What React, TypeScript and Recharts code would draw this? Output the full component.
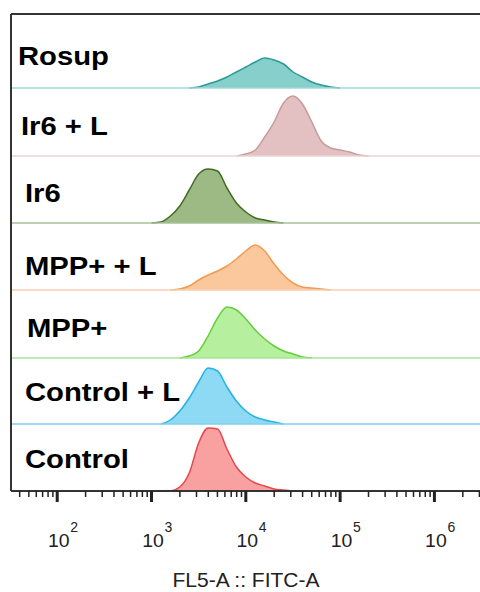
import { ComposedChart, Area, XAxis, YAxis, ReferenceLine } from 'recharts';

// log10 of FITC intensity, one sample every 0.1 decade
const logs = [3.0, 3.1, 3.2, 3.3, 3.4, 3.5, 3.6, 3.7, 3.8, 3.9, 4.0, 4.1, 4.2, 4.3, 4.4, 4.5, 4.6, 4.7, 4.8, 4.9, 5.0, 5.1, 5.2, 5.3];

// histogram heights per sample (null = outside the population)
const n = null;
const rosup = [n, n, n, n, 0, 1, 4, 7, 11, 16, 21, 26, 30, 28, 24, 16, 11, 6, 3, 1, 0, n, n, n];
const ir6L = [n, n, n, n, n, n, n, n, n, 0, 2, 6, 19, 34, 53, 60, 52, 34, 15, 8, 6, 4, 1, 0];
const ir6 = [0, 1, 7, 17, 33, 49, 54, 52, 35, 20, 11, 5, 3, 1, 0, n, n, n, n, n, n, n, n, n];
const mppL = [n, n, 0, 1, 4, 10, 15, 19, 24, 31, 39, 45, 39, 26, 15, 7, 3, 2, 1, 0, n, n, n, n];
const mpp = [n, n, n, 0, 2, 7, 22, 40, 51, 48, 39, 28, 19, 12, 7, 4, 1, 0, n, n, n, n, n, n];
const controlL = [n, 0, 4, 13, 26, 42, 56, 53, 37, 23, 13, 7, 4, 2, 0, n, n, n, n, n, n, n, n, n];
const control = [n, n, 0, 4, 18, 48, 63, 62, 42, 24, 14, 8, 5, 2, 1, 0, n, n, n, n, n, n, n, n];

const groupNames = ['Rosup', 'Ir6 + L', 'Ir6', 'MPP+ + L', 'MPP+', 'Control + L', 'Control'];

const majorTicks = [2, 3, 4, 5, 6];
const minorMultipliers = [2, 3, 4, 5, 6, 7, 8, 9];
const axisTitle = 'FL5-A :: FITC-A';

const X_DOMAIN: [number, number] = [1.51, 6.6];
const Y_TOP = 477;

const allTicks: number[] = [];
[1, ...majorTicks].forEach(d => {
  if (majorTicks.includes(d)) allTicks.push(d);
  minorMultipliers.forEach(m => {
    const v = d + Math.log10(m);
    if (v >= X_DOMAIN[0] && v <= X_DOMAIN[1]) allTicks.push(v);
  });
});

const rows = [
  { key: 'rosup', values: rosup, offset: 403, fill: '#86cfcb', stroke: '#2b9b96', base: '#9fd9d6', lx: 18, ly: 23 },
  { key: 'ir6L', values: ir6L, offset: 335, fill: '#e3c1c2', stroke: '#c99a9b', base: '#ecd3d4', lx: 21, ly: 21 },
  { key: 'ir6', values: ir6, offset: 268, fill: '#9dba85', stroke: '#3f6d22', base: '#a9c19a', lx: 25, ly: 21 },
  { key: 'mppL', values: mppL, offset: 201, fill: '#fac89c', stroke: '#f19a52', base: '#f6cfb0', lx: 25, ly: 15 },
  { key: 'mpp', values: mpp, offset: 133, fill: '#b6ef9e', stroke: '#63cf3b', base: '#a8e596', lx: 27, ly: 21 },
  { key: 'controlL', values: controlL, offset: 67, fill: '#8ed9f4', stroke: '#22b3e6', base: '#7fd0ee', lx: 25, ly: 23 },
  { key: 'control', values: control, offset: 0, fill: '#f9a0a0', stroke: '#e6474a', base: 'none', lx: 25, ly: 23 },
];

const table = logs.map((x, i) => {
  const row: Record<string, number | null> = { x };
  rows.forEach(r => { row[r.key] = r.values[i]; });
  return row;
});

const FONT = '"Liberation Sans", Arial, sans-serif';

function AxisTick({ x, y, payload }: any) {
  const v = payload.value as number;
  const major = Math.abs(v - Math.round(v)) < 1e-6;
  return (
    <g>
      <line x1={x} x2={x} y1={y} y2={y + (major ? 11 : 6)} stroke="#222" strokeWidth={major ? 3 : 1.5} />
      {major && (
        <g fill="#222" fontFamily={FONT}>
          <text transform={`translate(${x + 1.5}, ${y + 56}) scale(1.08, 1)`} textAnchor="middle" fontSize={18}>10</text>
          <text x={x + 13} y={y + 41} fontSize={14}>{Math.round(v)}</text>
        </g>
      )}
    </g>
  );
}

export default function App() {
  return (
    <div style={{ position: 'absolute', left: 0, top: 0, width: 480, height: 592, overflow: 'hidden', background: '#fff' }}>
      <ComposedChart width={500} height={592} data={table} margin={{ top: 14, right: 9, left: 11, bottom: 0 }}>
        <XAxis
          dataKey="x"
          type="number"
          domain={X_DOMAIN}
          allowDataOverflow
          ticks={allTicks}
          interval={0}
          tickSize={0}
          tickMargin={0}
          tickLine={false}
          tick={<AxisTick />}
          height={101}
          axisLine={{ stroke: '#333', strokeWidth: 2 }}
          label={({ viewBox }: any) => (
            <text x={viewBox.x + 235} y={viewBox.y + 96} textAnchor="middle" fontSize={21} fill="#222" fontFamily={FONT}>
              {axisTitle}
            </text>
          )}
        />
        <YAxis hide type="number" domain={[0, Y_TOP]} allowDataOverflow />
        {rows.map((r, i) => (
          <ReferenceLine
            key={'b' + r.key}
            y={r.offset}
            stroke={r.base}
            strokeWidth={1.5}
            label={({ viewBox }: any) => (
              <text
                transform={`translate(${r.lx}, ${viewBox.y - r.ly}) scale(1.17, 1)`}
                fontSize={25}
                fontWeight="bold"
                fill="#000"
                fontFamily={FONT}
              >
                {groupNames[i]}
              </text>
            )}
          />
        ))}
        {rows.map(r => (
          <Area
            key={r.key}
            type="monotone"
            dataKey={(d: any) => (d[r.key] == null ? null : r.offset + d[r.key])}
            baseValue={r.offset}
            stroke={r.stroke}
            strokeWidth={1.5}
            fill={r.fill}
            fillOpacity={1}
            dot={false}
            activeDot={false}
            isAnimationActive={false}
          />
        ))}
        <ReferenceLine y={Y_TOP} stroke="#333" strokeWidth={2} />
        <ReferenceLine x={X_DOMAIN[0]} stroke="#333" strokeWidth={2} />
      </ComposedChart>
    </div>
  );
}
